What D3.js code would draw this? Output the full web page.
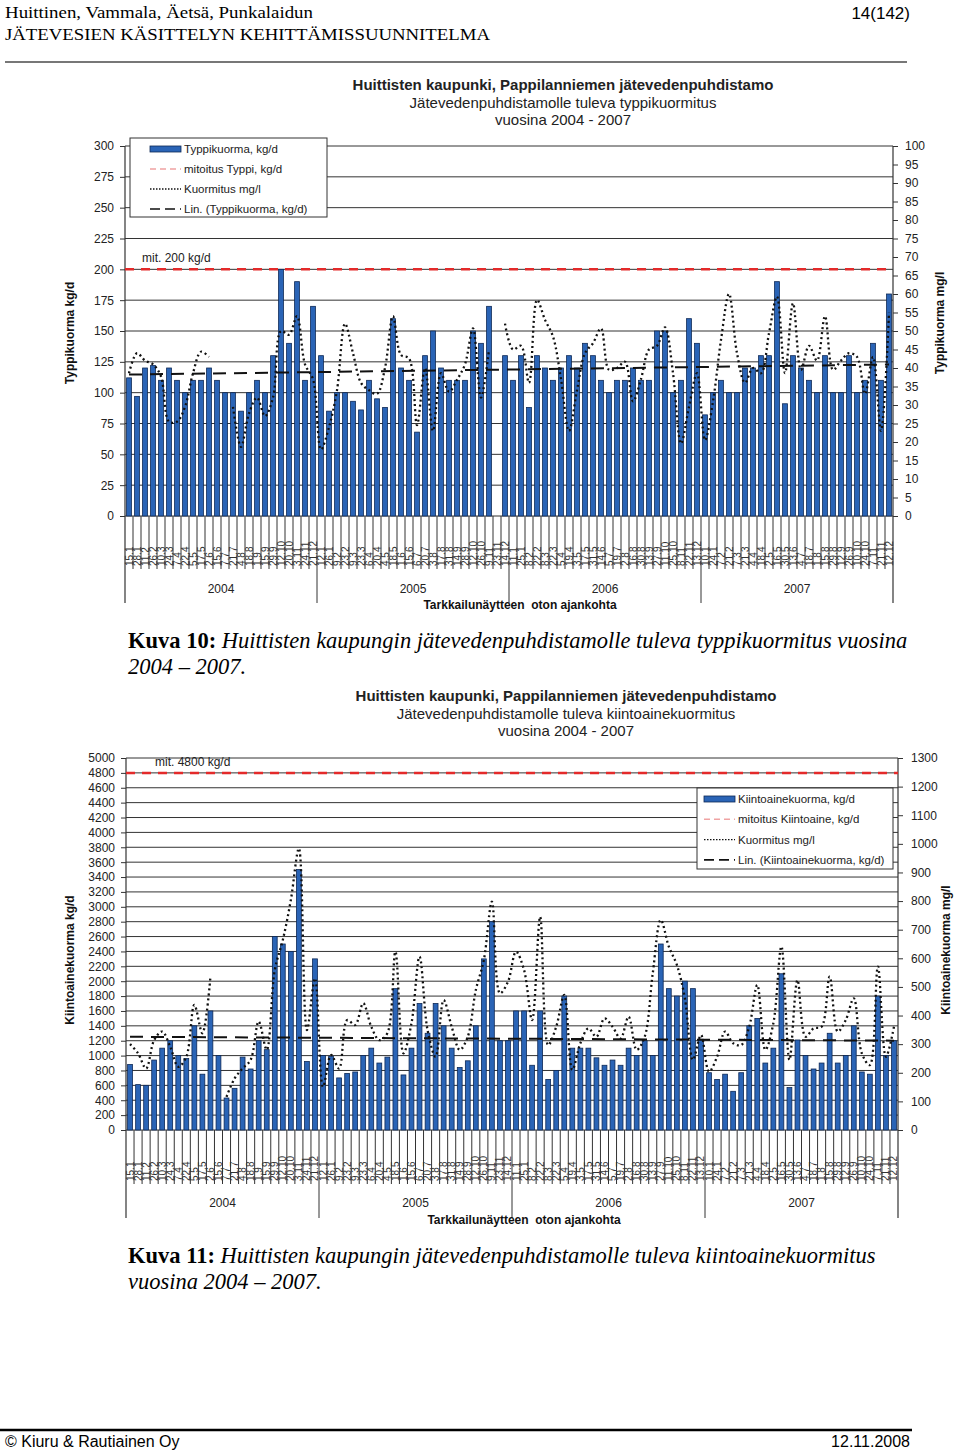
<!DOCTYPE html>
<html>
<head>
<meta charset="utf-8">
<title>Huittisten kaupunki - typpi- ja kiintoainekuormitus</title>
<script src="https://cdn.jsdelivr.net/npm/d3@7"></script>
<style>
  body { margin: 0; background: #fff; }
  svg { display: block; }
  text { font-family: "Liberation Sans", Arial, sans-serif; fill: #222; }
  .serif { font-family: "Liberation Serif", "Times New Roman", serif; fill: #000; }
</style>
</head>
<body>
<script>
// sample dates, two per month
var dates2004 = ["15.1","28.1","11.2","26.2","10.3","24.3","7.4","22.4","5.5","17.5","2.6","15.6","7.7","21.7","4.8","18.8","1.9","15.9","29.9","12.10","20.10","3.11","24.11","21.12"];
var dates2005 = ["12.1","26.1","9.2","23.2","9.3","23.3","6.4","20.4","4.5","18.5","1.6","15.6","6.7","20.7","3.8","17.8","31.8","14.9","28.9","12.10","26.10","9.11","23.11","14.12"];
var dates2006 = ["11.1","25.1","8.2","22.2","8.3","22.3","5.4","19.4","3.5","17.5","31.5","14.6","5.7","19.7","2.8","16.8","30.8","13.9","27.9","11.10","25.10","8.11","22.11","13.12"];
var dates2007 = ["10.1","24.1","7.2","21.2","7.3","21.3","4.4","18.4","2.5","16.5","30.5","13.6","4.7","18.7","1.8","15.8","29.8","12.9","26.9","10.10","24.10","7.11","21.11","12.12"];
var sampleDates = dates2004.concat(dates2005, dates2006, dates2007);
var years = ["2004", "2005", "2006", "2007"];

// Typpikuorma kg/d (bars) and Kuormitus mg/l (dotted line)
var typpiKgD = [
  112, 97, 120, 122, 110, 120, 110, 100, 110, 110, 120, 110, 100, 100, 85, 100, 110, 100, 130, 200, 140, 190, 110, 170,
  130, 85, 100, 100, 93, 86, 110, 95, 88, 160, 120, 110, 68, 130, 150, 120, 110, 110, 110, 150, 140, 170, null, 130,
  110, 130, 88, 130, 120, 110, 120, 130, 120, 140, 130, 110, 100, 110, 110, 120, 110, 110, 150, 150, 100, 110, 160, 140,
  82, 100, 110, 100, 100, 120, 120, 130, 130, 190, 91, 130, 120, 110, 100, 130, 100, 100, 130, 100, 110, 140, 110, 180
];
var typpiMgL = [
  38.6, 44, 42, 41, 37.7, 25.5, 25.5, 29.5, 38.6, 44.4, 43, null, null, 29.5, 18.7, 27.7, 32, 27, 32, 50, 49, 54, 41, 37,
  18, 24, 34, 52, 44, 36, 34, 33, 40, 54, 43.5, 42.6, 24.6, 40, 23, 38.6, 33.6, 36.8, 41, 50.7, 32, 45, null, 52,
  45, 46, 36, 58.4, 53, 48.5, 37, 23, 34, 44, 46.7, 50.7, 39.5, 40, 41.7, 31, 37, 45, 46, 51, 38.6, 19.6, 29.5, 38.6,
  20.5, 31, 47.6, 60, 44, 36, 40, 38.6, 49.4, 59.3, 38.6, 57.5, 39.5, 46, 42, 54, 39.5, 42, 44, 43, 33, 43, 23, 55
];

// Kiintoainekuorma kg/d (bars) and Kuormitus mg/l (dotted line)
var kiintoKgD = [
  880, 610, 600, 940, 1100, 1200, 1000, 960, 1400, 750, 1600, 1000, 430, 560, 980, 820, 1200, 1080, 2600, 2500, 2400, 3500, 920, 2300,
  1000, 990, 700, 760, 780, 1000, 1100, 900, 980, 1900, 740, 1100, 1700, 1300, 1700, 1400, 1100, 840, 930, 1400, 2300, 2800, 1200, 1200,
  1600, 1600, 870, 1600, 680, 800, 1800, 1100, 1100, 1100, 970, 870, 940, 870, 1100, 1000, 1200, 1000, 2500, 1900, 1800, 2000, 1900, 1220,
  770, 680, 750, 520, 770, 1400, 1500, 900, 1100, 2100, 570, 1210, 1000, 820, 900, 1300, 900, 1000, 1400, 780, 750, 1800, 1000, 1200
];
var kiintoMgL = [
  300, 268, 215, 314, 344, 291, 221, 256, 437, 338, 536, null, 116, 180, 215, 245, 379, 280, 559, 664, 804, 984, 349, 530,
  151, 262, 215, 384, 367, 443, 361, 314, 338, 623, 268, 373, 606, 349, 256, 454, 361, 280, 326, 489, 594, 798, 478, 518,
  623, 559, 384, 745, 297, 361, 472, 210, 303, 355, 326, 390, 361, 320, 396, 280, 326, 547, 734, 641, 577, 460, 245, 332,
  204, 256, 344, 303, 297, 361, 507, 280, 373, 641, 245, 524, 326, 355, 361, 536, 344, 384, 460, 268, 227, 571, 256, 361
];

var W = 960, H = 1454;
var svg = d3.select("body").append("svg")
  .attr("width", W)
  .attr("height", H);

// ---------- page header / footer ----------
svg.append("text").attr("class", "serif")
  .attr("x", 5).attr("y", 18)
  .attr("font-size", 17)
  .attr("textLength", 308).attr("lengthAdjust", "spacingAndGlyphs")
  .text("Huittinen, Vammala, Äetsä, Punkalaidun");
svg.append("text").attr("class", "serif")
  .attr("x", 5).attr("y", 40)
  .attr("font-size", 17)
  .attr("textLength", 485).attr("lengthAdjust", "spacingAndGlyphs")
  .text("JÄTEVESIEN KÄSITTELYN KEHITTÄMISSUUNNITELMA");
svg.append("text")
  .attr("x", 910).attr("y", 19)
  .attr("text-anchor", "end")
  .attr("font-size", 17)
  .style("fill", "#000")
  .text("14(142)");
svg.append("line")
  .attr("x1", 5).attr("x2", 907).attr("y1", 62).attr("y2", 62)
  .attr("stroke", "#777").attr("stroke-width", 2);

svg.append("line")
  .attr("x1", 0).attr("x2", 912).attr("y1", 1430).attr("y2", 1430)
  .attr("stroke", "#000").attr("stroke-width", 2.5);
svg.append("text")
  .attr("x", 5).attr("y", 1447)
  .attr("font-size", 16).style("fill", "#000")
  .text("© Kiuru & Rautiainen Oy");
svg.append("text")
  .attr("x", 910).attr("y", 1447)
  .attr("text-anchor", "end")
  .attr("font-size", 16).style("fill", "#000")
  .text("12.11.2008");

function caption(y, num, lines) {
  var t = svg.append("text").attr("class", "serif")
    .attr("x", 128).attr("y", y)
    .attr("font-size", 22.5);
  t.append("tspan").attr("font-weight", "bold").text("Kuva " + num + ":");
  t.append("tspan").attr("font-style", "italic").text(" " + lines[0]);
  svg.append("text").attr("class", "serif")
    .attr("x", 128).attr("y", y + 26)
    .attr("font-size", 22.5)
    .attr("font-style", "italic")
    .text(lines[1]);
}
caption(648, 10, ["Huittisten kaupungin jätevedenpuhdistamolle tuleva typpikuormitus vuosina", "2004 – 2007."]);
caption(1263, 11, ["Huittisten kaupungin jätevedenpuhdistamolle tuleva kiintoainekuormitus", "vuosina 2004 – 2007."]);

// ---------- chart ----------
function drawChart(c) {
  var g = svg.append("g");
  var n = c.bars.length;

  var x = d3.scaleBand()
    .domain(d3.range(n))
    .range([c.left, c.right])
    .paddingInner(0.4)
    .paddingOuter(0.2);
  var step = x.step();
  var xc = function(i) { return x(i) + x.bandwidth() / 2; };

  var y = d3.scaleLinear().domain([0, c.yMax]).range([c.bottom, c.top]);
  var y2 = d3.scaleLinear().domain([0, c.y2Max]).range([c.bottom, c.top]);

  // titles
  c.titles.forEach(function(t, k) {
    g.append("text")
      .attr("x", c.titleX).attr("y", c.titleY + k * 17.5)
      .attr("text-anchor", "middle")
      .attr("font-size", 15)
      .attr("font-weight", k === 0 ? "bold" : "normal")
      .text(t);
  });

  // gridlines
  var leftTicks = d3.range(0, c.yMax + 1, c.yStep);
  g.append("g").selectAll("line")
    .data(leftTicks)
    .enter().append("line")
    .attr("x1", c.left).attr("x2", c.right)
    .attr("y1", function(d) { return y(d); })
    .attr("y2", function(d) { return y(d); })
    .attr("stroke", "#333").attr("stroke-width", 1);

  // left axis
  var yAxis = d3.axisLeft(y).tickValues(leftTicks).tickFormat(d3.format("d"))
    .tickSize(5).tickPadding(6);
  var ga = g.append("g")
    .attr("transform", "translate(" + c.left + ",0)")
    .call(yAxis);
  ga.select(".domain").remove();
  ga.selectAll("line").attr("stroke", "#333");
  ga.selectAll("text").attr("font-size", 12).attr("font-family", null).style("fill", "#222");

  // right axis
  var y2Axis = d3.axisRight(y2).tickValues(d3.range(0, c.y2Max + 1, c.y2Step)).tickFormat(d3.format("d"))
    .tickSize(5).tickPadding(c.rightPad);
  var gb = g.append("g")
    .attr("transform", "translate(" + c.right + ",0)")
    .call(y2Axis);
  gb.select(".domain").remove();
  gb.selectAll("line").attr("stroke", "#333");
  gb.selectAll("text").attr("font-size", 12).attr("font-family", null).style("fill", "#222");

  // axis frame lines (extend down through the category area)
  [c.left, c.right].forEach(function(px) {
    g.append("line")
      .attr("x1", px).attr("x2", px)
      .attr("y1", c.top).attr("y2", c.yearBottom)
      .attr("stroke", "#333").attr("stroke-width", 1.2);
  });

  // category separators
  g.append("g").selectAll("line")
    .data(d3.range(1, n))
    .enter().append("line")
    .attr("x1", function(i) { return c.left + i * step; })
    .attr("x2", function(i) { return c.left + i * step; })
    .attr("y1", c.bottom)
    .attr("y2", function(i) { return i % 24 === 0 ? c.yearBottom : c.tickBottom; })
    .attr("stroke", "#333").attr("stroke-width", 1);

  // category labels
  g.append("g").selectAll("text")
    .data(sampleDates)
    .enter().append("text")
    .attr("transform", function(d, i) {
      return "translate(" + (xc(i) + 3.5) + "," + c.labelBase + ") rotate(-90)";
    })
    .attr("font-size", 10)
    .style("fill", "#333")
    .text(function(d) { return d; });

  // year labels
  g.append("g").selectAll("text")
    .data(years)
    .enter().append("text")
    .attr("x", function(d, k) { return c.left + (k * 24 + 12) * step; })
    .attr("y", c.yearY)
    .attr("text-anchor", "middle")
    .attr("font-size", 12)
    .text(function(d) { return d; });

  g.append("text")
    .attr("x", c.xTitleX).attr("y", c.xTitleY)
    .attr("text-anchor", "middle")
    .attr("font-size", 12).attr("font-weight", "bold")
    .style("white-space", "pre")
    .style("fill", "#111")
    .text("Tarkkailunäytteen  oton ajankohta");

  // y titles
  g.append("text")
    .attr("transform", "translate(" + (c.yTitleX + 4) + "," + c.yTitleY + ") rotate(-90)")
    .attr("text-anchor", "middle")
    .attr("font-size", 12).attr("font-weight", "bold")
    .style("fill", "#111")
    .text(c.yTitle);
  g.append("text")
    .attr("transform", "translate(" + (c.y2TitleX + 4) + "," + c.y2TitleY + ") rotate(-90)")
    .attr("text-anchor", "middle")
    .attr("font-size", 12).attr("font-weight", "bold")
    .style("fill", "#111")
    .text(c.y2Title);

  // design limit (red dashed)
  g.append("line")
    .attr("x1", c.left).attr("x2", c.right)
    .attr("y1", y(c.limit)).attr("y2", y(c.limit))
    .attr("stroke", "#e32a2a").attr("stroke-width", 2.5)
    .attr("stroke-dasharray", "9,7");
  g.append("text")
    .attr("x", c.limitLabelX).attr("y", y(c.limit) - 7)
    .attr("font-size", 12)
    .text(c.limitLabel);

  // bars
  g.append("g").selectAll("rect")
    .data(c.bars.map(function(v, i) { return { i: i, v: v }; }).filter(function(d) { return d.v != null; }))
    .enter().append("rect")
    .attr("x", function(d) { return x(d.i); })
    .attr("width", x.bandwidth())
    .attr("y", function(d) { return y(d.v); })
    .attr("height", function(d) { return c.bottom - y(d.v); })
    .attr("fill", "#2a64b6")
    .attr("stroke", "#0d2856")
    .attr("stroke-width", 0.8);

  // concentration, smoothed dotted line on right axis
  var line = d3.line()
    .defined(function(d) { return d != null; })
    .x(function(d, i) { return xc(i); })
    .y(function(d) { return y2(d); })
    .curve(d3.curveCatmullRom.alpha(0.5));
  g.append("path")
    .datum(c.line)
    .attr("d", line)
    .attr("fill", "none")
    .attr("stroke", "#111")
    .attr("stroke-width", 2.3)
    .attr("stroke-dasharray", "2,3");

  // linear trend of the bar series
  var pts = c.bars.map(function(v, i) { return [i, v]; }).filter(function(p) { return p[1] != null; });
  var mx = d3.mean(pts, function(p) { return p[0]; });
  var my = d3.mean(pts, function(p) { return p[1]; });
  var slope = d3.sum(pts, function(p) { return (p[0] - mx) * (p[1] - my); }) /
              d3.sum(pts, function(p) { return (p[0] - mx) * (p[0] - mx); });
  var icept = my - slope * mx;
  g.append("line")
    .attr("x1", xc(0)).attr("x2", xc(n - 1))
    .attr("y1", y(icept)).attr("y2", y(icept + slope * (n - 1)))
    .attr("stroke", "#111").attr("stroke-width", 2)
    .attr("stroke-dasharray", "13,8");

  // legend
  var L = c.legend;
  var lg = g.append("g").attr("transform", "translate(" + L.x + "," + L.y + ")");
  lg.append("rect")
    .attr("width", L.w).attr("height", L.h)
    .attr("fill", "#fff").attr("stroke", "#333").attr("stroke-width", 1);
  L.items.forEach(function(it, k) {
    var yy = L.rowY + k * L.rowH;
    if (it.type === "bar") {
      lg.append("rect")
        .attr("x", L.sx).attr("y", yy - 3).attr("width", L.sw).attr("height", 6)
        .attr("fill", "#2a64b6").attr("stroke", "#0d2856").attr("stroke-width", 0.8);
    } else if (it.type === "limit") {
      lg.append("line")
        .attr("x1", L.sx).attr("x2", L.sx + L.sw).attr("y1", yy).attr("y2", yy)
        .attr("stroke", "#f0a3a3").attr("stroke-width", 1.5).attr("stroke-dasharray", "6,4");
    } else if (it.type === "dot") {
      lg.append("line")
        .attr("x1", L.sx).attr("x2", L.sx + L.sw).attr("y1", yy).attr("y2", yy)
        .attr("stroke", "#111").attr("stroke-width", 1.3).attr("stroke-dasharray", "1.5,1.5");
    } else {
      lg.append("line")
        .attr("x1", L.sx).attr("x2", L.sx + L.sw).attr("y1", yy).attr("y2", yy)
        .attr("stroke", "#111").attr("stroke-width", 1.6).attr("stroke-dasharray", "10,5");
    }
    lg.append("text")
      .attr("x", L.tx).attr("y", yy + 4)
      .attr("font-size", 11.5)
      .text(it.label);
  });
}

drawChart({
  bars: typpiKgD, line: typpiMgL,
  left: 125, right: 893, top: 146, bottom: 516,
  tickBottom: 569, yearBottom: 603, labelBase: 566, yearY: 593,
  xTitleX: 520, xTitleY: 609,
  yMax: 300, yStep: 25, y2Max: 100, y2Step: 5, rightPad: 7,
  titles: ["Huittisten kaupunki, Pappilanniemen jätevedenpuhdistamo",
           "Jätevedenpuhdistamolle tuleva typpikuormitus",
           "vuosina 2004 - 2007"],
  titleX: 563, titleY: 90,
  yTitle: "Typpikuorma kg/d", yTitleX: 70, yTitleY: 333,
  y2Title: "Typpikuorma mg/l", y2TitleX: 940, y2TitleY: 323,
  limit: 200, limitLabel: "mit. 200 kg/d", limitLabelX: 142,
  legend: {
    x: 130, y: 138, w: 197, h: 79, rowY: 11, rowH: 20, sx: 20, sw: 31, tx: 54,
    items: [
      { type: "bar", label: "Typpikuorma, kg/d" },
      { type: "limit", label: "mitoitus Typpi, kg/d" },
      { type: "dot", label: "Kuormitus mg/l" },
      { type: "trend", label: "Lin. (Typpikuorma, kg/d)" }
    ]
  }
});

drawChart({
  bars: kiintoKgD, line: kiintoMgL,
  left: 126, right: 898, top: 758, bottom: 1130,
  tickBottom: 1184, yearBottom: 1218, labelBase: 1181, yearY: 1207,
  xTitleX: 524, xTitleY: 1224,
  yMax: 5000, yStep: 200, y2Max: 1300, y2Step: 100, rightPad: 8,
  titles: ["Huittisten kaupunki, Pappilanniemen jätevedenpuhdistamo",
           "Jätevedenpuhdistamolle tuleva kiintoainekuormitus",
           "vuosina 2004 - 2007"],
  titleX: 566, titleY: 701,
  yTitle: "Kiintoainekuorma kg/d", yTitleX: 70, yTitleY: 960,
  y2Title: "Kiintoainekuorma mg/l", y2TitleX: 946, y2TitleY: 950,
  limit: 4800, limitLabel: "mit. 4800 kg/d", limitLabelX: 155,
  legend: {
    x: 697, y: 788, w: 196, h: 81, rowY: 11, rowH: 20.3, sx: 7, sw: 31, tx: 41,
    items: [
      { type: "bar", label: "Kiintoainekuorma, kg/d" },
      { type: "limit", label: "mitoitus Kiintoaine, kg/d" },
      { type: "dot", label: "Kuormitus mg/l" },
      { type: "trend", label: "Lin. (Kiintoainekuorma, kg/d)" }
    ]
  }
});
</script>
</body>
</html>
